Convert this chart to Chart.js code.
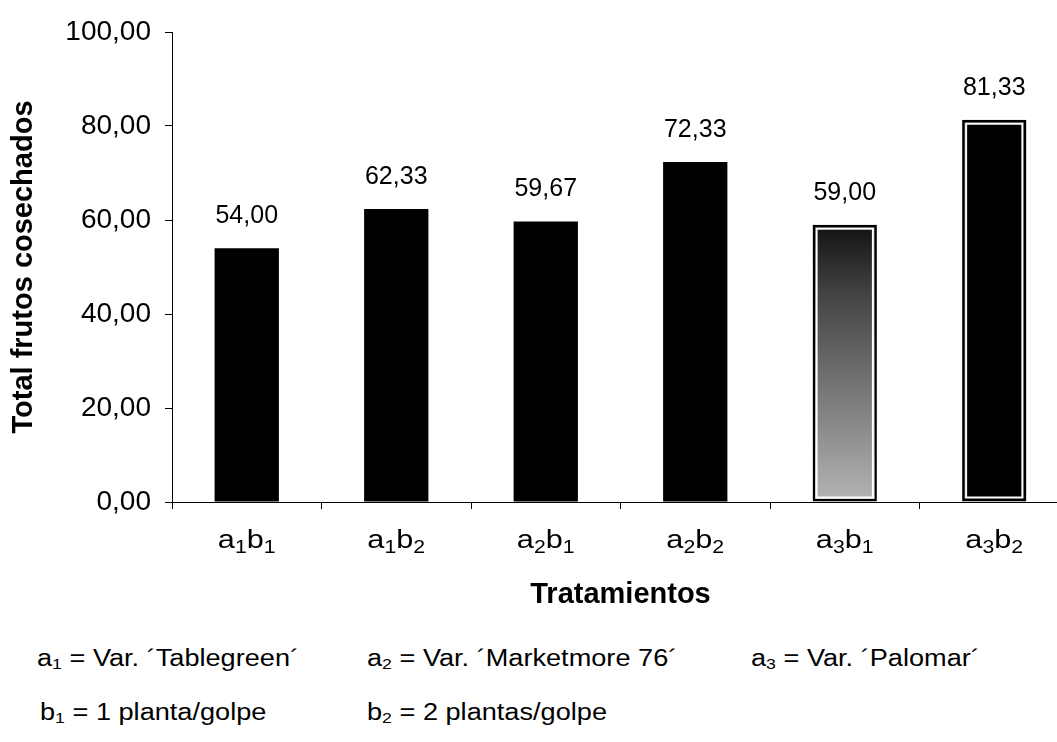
<!DOCTYPE html>
<html>
<head>
<meta charset="utf-8">
<script src="https://cdn.jsdelivr.net/npm/chart.js@4/dist/chart.umd.min.js"></script>
<style>
  html, body { margin: 0; padding: 0; background: #fff; overflow: hidden; width: 1057px; height: 742px; }
  #wrap { position: relative; width: 1075px; height: 742px; }
  #c { position: absolute; left: 0; top: 0; }
  .note { position: absolute; font-family: "Liberation Sans", Arial, sans-serif; font-size: 23px;
          color: #000; white-space: nowrap; line-height: 1; transform: scaleX(1.18); transform-origin: 0 0; }
  .note sub { font-size: 15px; vertical-align: -3px; line-height: 0; }
</style>
</head>
<body>
<div id="wrap">
  <canvas id="c" width="1075" height="625"></canvas>
  <div class="note" style="left:37px; top:647px;">a<sub>1</sub> = Var. ´Tablegreen´</div>
  <div class="note" style="left:367px; top:647px;">a<sub>2</sub> = Var. ´Marketmore 76´</div>
  <div class="note" style="left:751px; top:647px;">a<sub>3</sub> = Var. ´Palomar´</div>
  <div class="note" style="left:40px; top:701px;">b<sub>1</sub> = 1 planta/golpe</div>
  <div class="note" style="left:367px; top:701px;">b<sub>2</sub> = 2 plantas/golpe</div>
</div>
<script>
// Treatments (variety a × plants per hole b) and total harvested fruits
const categories = ['a₁b₁', 'a₁b₂', 'a₂b₁', 'a₂b₂', 'a₃b₁', 'a₃b₂'];
const totalFrutos = [54.00, 62.33, 59.67, 72.33, 59.00, 81.33];
const yTicks = [0, 20, 40, 60, 80, 100];
// Bars drawn with a framed (double outline) style
const framedBars = [4, 5];

const FONT = '"Liberation Sans", Arial, Helvetica, sans-serif';
const fmt = v => Number(v).toFixed(2).replace('.', ',');
const SUBS = { '₀': '0', '₁': '1', '₂': '2', '₃': '3', '₄': '4', '₅': '5', '₆': '6', '₇': '7', '₈': '8', '₉': '9' };

// Grey shaded fill for a3b1, dark at the top fading lighter to the base
function shadedFill(ctx) {
  const chart = ctx.chart;
  const area = chart.chartArea;
  if (!area) return '#555';
  const g = chart.ctx.createLinearGradient(0, area.top, 0, area.bottom);
  g.addColorStop(0, '#111');
  g.addColorStop(0.42, '#151515');
  g.addColorStop(0.56, '#444');
  g.addColorStop(0.8, '#808080');
  g.addColorStop(1, '#b4b4b4');
  return g;
}

// Value labels above each bar
const valueLabels = {
  id: 'valueLabels',
  afterDatasetsDraw(chart) {
    const { ctx } = chart;
    const meta = chart.getDatasetMeta(0);
    ctx.save();
    ctx.font = '25px ' + FONT;
    ctx.fillStyle = '#000';
    ctx.textAlign = 'center';
    ctx.textBaseline = 'middle';
    meta.data.forEach((bar, i) => {
      ctx.fillText(fmt(totalFrutos[i]), bar.x, bar.y - 32);
    });
    ctx.restore();
  }
};

// White inner line that gives the framed bars their double outline
const innerFrame = {
  id: 'innerFrame',
  afterDatasetsDraw(chart) {
    const { ctx } = chart;
    const meta = chart.getDatasetMeta(0);
    ctx.save();
    ctx.strokeStyle = '#fff';
    ctx.lineWidth = 2;
    framedBars.forEach(i => {
      const bar = meta.data[i];
      const w = bar.width;
      ctx.strokeRect(bar.x - w / 2 + 4, bar.y + 4, w - 8, bar.base - bar.y - 8);
    });
    ctx.restore();
  }
};

// Category labels with real subscript digits (a₁b₁ …)
const subscriptLabels = {
  id: 'subscriptLabels',
  afterDraw(chart) {
    const { ctx } = chart;
    const xs = chart.scales.x;
    const baseFont = '26px ' + FONT;
    const subFont = '18px ' + FONT;
    const stretch = 1.18;
    const y = xs.top + 46;
    ctx.save();
    ctx.fillStyle = '#000';
    ctx.textBaseline = 'alphabetic';
    ctx.textAlign = 'left';
    categories.forEach((label, i) => {
      const parts = [...label].map(ch => SUBS[ch] ? { t: SUBS[ch], sub: true } : { t: ch, sub: false });
      let total = 0;
      parts.forEach(p => { ctx.font = p.sub ? subFont : baseFont; p.w = ctx.measureText(p.t).width; total += p.w; });
      const cx = xs.getPixelForValue(i);
      ctx.save();
      ctx.translate(cx - (total * stretch) / 2, y);
      ctx.scale(stretch, 1);
      let x = 0;
      parts.forEach(p => {
        ctx.font = p.sub ? subFont : baseFont;
        ctx.fillText(p.t, x, p.sub ? 5 : 0);
        x += p.w;
      });
      ctx.restore();
    });
    ctx.restore();
  }
};

new Chart(document.getElementById('c'), {
  type: 'bar',
  data: {
    labels: categories,
    datasets: [{
      data: totalFrutos,
      backgroundColor: ctx => (ctx.dataIndex === 4 ? shadedFill(ctx) : '#000'),
      borderColor: '#000',
      borderWidth: ctx => (framedBars.includes(ctx.dataIndex) ? 2.5 : 0),
      borderSkipped: false,
      categoryPercentage: 1,
      barPercentage: 0.43
    }]
  },
  options: {
    responsive: false,
    animation: false,
    devicePixelRatio: 1,
    layout: { padding: { top: 32, right: 6, left: 0, bottom: 0 } },
    plugins: {
      legend: { display: false },
      tooltip: { enabled: false }
    },
    scales: {
      x: {
        grid: { drawOnChartArea: false, drawTicks: true, tickLength: 7, color: '#000', offset: true },
        border: { color: '#000', width: 1 },
        ticks: { display: false },
        title: {
          display: true, text: 'Tratamientos', color: '#000',
          font: { family: FONT, size: 29, weight: 'bold' },
          padding: { top: 0, bottom: 13 }
        },
        afterFit: s => { s.height = 123; }
      },
      y: {
        min: 0,
        max: 100,
        afterBuildTicks: s => { s.ticks = yTicks.map(v => ({ value: v })); },
        grid: { drawOnChartArea: false, drawTicks: true, tickLength: 7, color: '#000' },
        border: { color: '#000', width: 1 },
        ticks: { color: '#000', font: { family: FONT, size: 28 }, padding: 14, callback: v => fmt(v) },
        title: {
          display: true, text: 'Total frutos cosechados', color: '#000',
          font: { family: FONT, size: 29, weight: 'bold' },
          padding: { top: 7, bottom: 0 }
        },
        afterFit: s => { s.width = 172; }
      }
    }
  },
  plugins: [valueLabels, innerFrame, subscriptLabels]
});
</script>
</body>
</html>
